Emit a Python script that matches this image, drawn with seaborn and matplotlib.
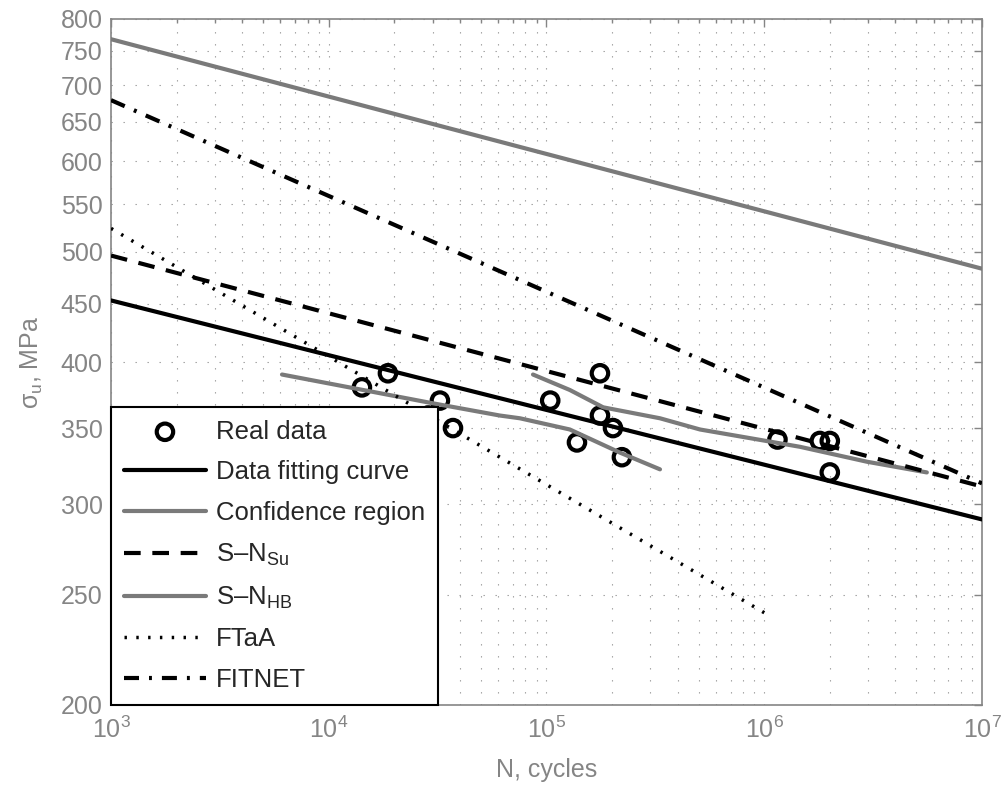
import numpy as np
import matplotlib
matplotlib.use('Agg')
import matplotlib.pyplot as plt
from matplotlib.ticker import FixedLocator, FixedFormatter, NullLocator, LogLocator
import seaborn as sns

# measured fatigue data (N in cycles, stress amplitude in MPa)
data_N = [1.42e4, 1.87e4, 2.86e4, 3.24e4, 3.72e4, 1.04e5, 1.38e5, 1.76e5,
          1.76e5, 2.02e5, 2.22e5, 1.15e6, 1.80e6, 2.00e6, 2.00e6]
data_S = [380, 391, 359, 370, 350, 370, 340, 391, 359, 350, 330, 342, 341, 341, 320]

fit_N = [1e3, 1e7]
fit_S = [453, 291]

conf_low_N = [6.1e3, 3.0e4, 6.1e4, 7.55e4, 1.28e5, 2.18e5, 3.32e5]
conf_low_S = [390, 368, 359, 357, 349, 333, 322]
conf_up_N = [8.67e4, 1.28e5, 1.82e5, 3.32e5, 5.07e5, 1.46e6, 2.96e6, 5.58e6]
conf_up_S = [390, 378, 365, 357, 349, 337, 327, 320]

su_N = [1e3, 1e7]
su_S = [496, 311]
hb_N = [1e3, 1e7]
hb_S = [768, 483]
ftaa_N = [1e3, 1e6]
ftaa_S = [524, 241]
fitnet_N = [1e3, 1e7]
fitnet_S = [679, 313]

y_ticks = [200, 250, 300, 350, 400, 450, 500, 550, 600, 650, 700, 750, 800]
x_ticks = [1e3, 1e4, 1e5, 1e6, 1e7]
x_labels = ['$10^{3}$', '$10^{4}$', '$10^{5}$', '$10^{6}$', '$10^{7}$']

sns.set_style('white')
plt.rcParams['font.family'] = ['Liberation Sans', 'DejaVu Sans']
plt.rcParams['mathtext.fontset'] = 'custom'
plt.rcParams['mathtext.rm'] = 'Liberation Sans'
plt.rcParams['mathtext.it'] = 'Liberation Sans:italic'
plt.rcParams['mathtext.bf'] = 'Liberation Sans:bold'

GREY = '#7a7a7a'
AX_GREY = '#858585'

fig = plt.figure(figsize=(10.04, 7.87), dpi=100)
ax = fig.add_axes([111 / 1004, 1 - 705 / 787, 871 / 1004, 686 / 787])
ax.set_xscale('log')
ax.set_yscale('log')

sns.scatterplot(x=data_N, y=data_S, ax=ax, marker='o', s=140, facecolor='none',
                edgecolor='black', linewidth=3, label='Real data', zorder=3)
sns.lineplot(x=fit_N, y=fit_S, ax=ax, color='black', lw=3,
             label='Data fitting curve', zorder=4)
sns.lineplot(x=conf_low_N, y=conf_low_S, ax=ax, color=GREY, lw=3,
             label='Confidence region', zorder=4)
sns.lineplot(x=conf_up_N, y=conf_up_S, ax=ax, color=GREY, lw=3, zorder=4)
sns.lineplot(x=su_N, y=su_S, ax=ax, color='black', lw=3,
             linestyle=(0, (4, 2.8)), label='S\u2013N$_{\\mathregular{Su}}$', zorder=4)
sns.lineplot(x=hb_N, y=hb_S, ax=ax, color=GREY, lw=3,
             label='S\u2013N$_{\\mathregular{HB}}$', zorder=4)
sns.lineplot(x=ftaa_N, y=ftaa_S, ax=ax, color='black', lw=2.5,
             linestyle=(0, (0.7, 2.7)), label='FTaA', zorder=4)
sns.lineplot(x=fitnet_N, y=fitnet_S, ax=ax, color='black', lw=3,
             linestyle=(0, (3.6, 2.4, 0.7, 2.4)), label='FITNET', zorder=4)

ax.set_xlim(1e3, 1e7)
ax.set_ylim(200, 800)

ax.yaxis.set_major_locator(FixedLocator(y_ticks))
ax.yaxis.set_major_formatter(FixedFormatter([str(v) for v in y_ticks]))
ax.yaxis.set_minor_locator(NullLocator())
ax.xaxis.set_major_locator(FixedLocator(x_ticks))
ax.xaxis.set_major_formatter(FixedFormatter(x_labels))
ax.xaxis.set_minor_locator(LogLocator(base=10, subs=np.arange(2, 10)))

# MATLAB-style dotted grid
grid_kw = dict(color='#9a9a9a', lw=0.8, linestyle=(0, (1.2, 9.6)))
ax.grid(True, which='both', axis='x', **grid_kw)
ax.grid(True, which='major', axis='y', **grid_kw)
ax.set_axisbelow(True)

ax.tick_params(which='both', direction='in', top=True, right=True,
               colors=AX_GREY, labelsize=18)
ax.tick_params(which='major', length=6, width=1)
ax.tick_params(which='minor', length=3, width=1)
ax.tick_params(axis='x', which='major', pad=8)
ax.tick_params(axis='y', which='major', pad=6)
for sp in ax.spines.values():
    sp.set_color(AX_GREY)
    sp.set_linewidth(1.2)

ax.set_xlabel('N, cycles', fontsize=18, color=AX_GREY)
ax.set_ylabel('\u03c3$_{\\mathregular{u}}$, MPa', fontsize=18, color=AX_GREY)
ax.xaxis.set_label_coords(0.5, -0.077)
ax.yaxis.set_label_coords(-0.076, 0.5)

handles, labels = ax.get_legend_handles_labels()
leg = ax.legend(handles, labels, loc='lower left', bbox_to_anchor=(0, 0),
                borderaxespad=0, frameon=True, fancybox=False, fontsize=18.5,
                handlelength=3.2, handletextpad=0.4, labelspacing=0.65,
                borderpad=0.5, framealpha=1)
leg.get_frame().set_edgecolor('black')
leg.get_frame().set_linewidth(1.5)
leg.set_zorder(10)

fig.savefig('out.png', dpi=100)
